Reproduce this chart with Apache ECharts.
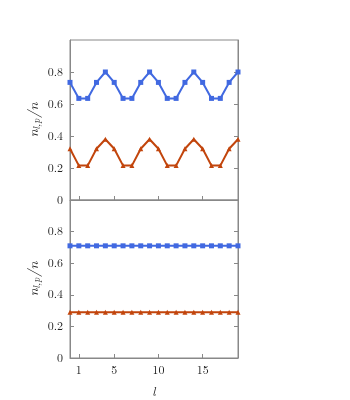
<!DOCTYPE html>
<html>
<head>
<meta charset="utf-8">
<script src="https://cdn.jsdelivr.net/npm/echarts@6/dist/echarts.min.js"></script>
<style>
  html, body { margin: 0; padding: 0; background: #fff; }
  #main { width: 350px; height: 400px; }
</style>
</head>
<body>
<div id="main"></div>
<script>
// data
var ls = [];
for (var i = 0; i <= 19; i++) ls.push(i);

var topBlue = [0.735, 0.635, 0.635, 0.735, 0.80, 0.735, 0.635, 0.635, 0.735, 0.80,
               0.735, 0.635, 0.635, 0.735, 0.80, 0.735, 0.635, 0.635, 0.735, 0.80];
var topOrange = [0.32, 0.215, 0.215, 0.32, 0.38, 0.32, 0.215, 0.215, 0.32, 0.38,
                 0.32, 0.215, 0.215, 0.32, 0.38, 0.32, 0.215, 0.215, 0.32, 0.38];
var botBlue = [0.71, 0.71, 0.71, 0.71, 0.71, 0.71, 0.71, 0.71, 0.71, 0.71,
               0.71, 0.71, 0.71, 0.71, 0.71, 0.71, 0.71, 0.71, 0.71, 0.71];
var botOrange = [0.29, 0.29, 0.29, 0.29, 0.29, 0.29, 0.29, 0.29, 0.29, 0.29,
                 0.29, 0.29, 0.29, 0.29, 0.29, 0.29, 0.29, 0.29, 0.29, 0.29];

var xTicks = [1, 5, 10, 15];
var yTicks = [0, 0.2, 0.4, 0.6, 0.8];

var BLUE = '#4169e1', ORANGE = '#c2450c', AXIS = '#888';
var FONT = '"Latin Modern Roman", "DejaVu Serif", serif';

function pairs(ys) {
    return ys.map(function(v, i) { return [ls[i], v]; });
}

function xAxisCfg(idx, labels) {
    return {
        type: 'value', gridIndex: idx, min: 0, max: 19,
        axisLine: { show: true, onZero: false, lineStyle: { color: AXIS, width: 1 } },
        axisTick: { show: true, inside: true, length: 4, customValues: xTicks, lineStyle: { color: AXIS } },
        axisLabel: { show: labels, customValues: xTicks, color: '#222', fontFamily: FONT, fontSize: 12, margin: 6 },
        splitLine: { show: false },
        name: labels ? 'l' : '', nameLocation: 'middle', nameGap: 28,
        nameTextStyle: { fontFamily: FONT, fontStyle: 'italic', fontSize: 13, color: '#222' }
    };
}

function yAxisCfg(idx, pos) {
    var left = pos === 'left';
    return {
        type: 'value', gridIndex: idx, position: pos, min: 0, max: 1,
        axisLine: { show: true, onZero: false, lineStyle: { color: AXIS, width: 1 } },
        axisTick: { show: true, inside: true, length: 4, customValues: yTicks, lineStyle: { color: AXIS } },
        axisLabel: { show: left, customValues: yTicks, color: '#222', fontFamily: FONT, fontSize: 12, margin: 7,
            formatter: function(v) { return v === 0 ? '0' : v.toFixed(1); } },
        splitLine: { show: false },
        name: left ? '{i|n}{s|l,p}{i|/n}' : '', nameLocation: 'middle', nameGap: 28, nameRotate: 90,
        nameTextStyle: {
            color: '#222',
            rich: {
                i: { fontFamily: FONT, fontStyle: 'italic', fontSize: 14, color: '#222' },
                s: { fontFamily: FONT, fontStyle: 'italic', fontSize: 10, color: '#222', padding: [6, 1, 0, 0] }
            }
        }
    };
}

function line(idx, ys, color, symbol, size) {
    return {
        type: 'line', xAxisIndex: idx, yAxisIndex: idx * 2, data: pairs(ys),
        symbol: symbol, symbolSize: size, showSymbol: true,
        lineStyle: { color: color, width: 2 },
        itemStyle: { color: color },
        animation: false
    };
}

var chart = echarts.init(document.getElementById('main'));
chart.setOption({
    backgroundColor: '#fff',
    grid: [
        { left: 70, top: 40, width: 168, height: 160, show: true, borderColor: AXIS, borderWidth: 1, backgroundColor: 'transparent' },
        { left: 70, top: 200, width: 168, height: 160, show: true, borderColor: AXIS, borderWidth: 1, backgroundColor: 'transparent' }
    ],
    xAxis: [xAxisCfg(0, false), xAxisCfg(1, true)],
    yAxis: [yAxisCfg(0, 'left'), yAxisCfg(0, 'right'), yAxisCfg(1, 'left'), yAxisCfg(1, 'right')],
    series: [
        line(0, topBlue, BLUE, 'rect', 5),
        line(0, topOrange, ORANGE, 'triangle', 5),
        line(1, botBlue, BLUE, 'rect', 5),
        line(1, botOrange, ORANGE, 'triangle', 5)
    ]
});
</script>
</body>
</html>
